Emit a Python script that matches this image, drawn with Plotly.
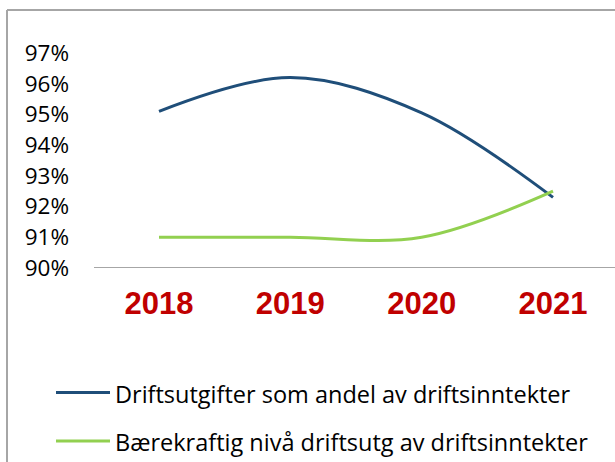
import plotly.graph_objects as go

years = ["2018", "2019", "2020", "2021"]
driftsutgifter = [95.1, 96.2, 95.05, 92.3]
baerekraftig = [91.0, 91.0, 91.0, 92.5]
y_ticks = [90, 91, 92, 93, 94, 95, 96, 97]
y_ticktext = [f"{v}%" for v in y_ticks]

names = ["Driftsutgifter som andel av driftsinntekter",
         "Bærekraftig nivå driftsutg av driftsinntekter"]
colors = ["#1F4E79", "#92D050"]

W, H = 615, 462
L, R, T, B = 94, 0, 53, 194
PW, PH = W - L - R, H - T - B

def px_x(x):
    return (x - L) / PW

def px_y(y):
    return (H - B - y) / PH

fig = go.Figure()
for i, (name, vals) in enumerate(zip(names, [driftsutgifter, baerekraftig])):
    fig.add_trace(go.Scatter(
        x=years, y=vals, mode="lines", name=name, showlegend=False,
        line=dict(color=colors[i], width=3, shape="spline", smoothing=1),
    ))

shapes = [
    dict(type="line", xref="paper", yref="y", x0=0, x1=1, y0=90, y1=90,
         line=dict(color="#A6A6A6", width=2)),
    dict(type="line", xref="paper", yref="paper",
         x0=px_x(7), x1=1.1, y0=px_y(10), y1=px_y(10),
         line=dict(color="#A6A6A6", width=2)),
    dict(type="line", xref="paper", yref="paper",
         x0=px_x(7), x1=px_x(7), y0=-1.5, y1=px_y(10),
         line=dict(color="#A6A6A6", width=2)),
]
annotations = []
legend_rows = [392.5, 441]
for i, name in enumerate(names):
    yy = legend_rows[i]
    shapes.append(dict(type="line", xref="paper", yref="paper",
                       x0=px_x(56), x1=px_x(110), y0=px_y(yy), y1=px_y(yy),
                       line=dict(color=colors[i], width=3)))
    annotations.append(dict(xref="paper", yref="paper", x=px_x(113), y=px_y(yy + 1.5),
                            xanchor="left", yanchor="middle", showarrow=False,
                            text=name, font=dict(size=23.5, family="Open Sans", color="black")))

fig.update_layout(
    width=W, height=H,
    margin=dict(l=L, r=R, t=T, b=B, pad=0, autoexpand=False),
    paper_bgcolor="white", plot_bgcolor="white",
    font=dict(family="Open Sans", color="black"),
    showlegend=False,
    xaxis=dict(
        type="category", range=[-0.495, 3.472],
        showgrid=False, zeroline=False, showline=False,
        ticks="", tickfont=dict(family="Liberation Sans", size=31, color="#C00000", weight="bold"),
        ticklabelstandoff=14,
    ),
    yaxis=dict(
        range=[90, 97], tickvals=y_ticks, ticktext=y_ticktext,
        showgrid=False, zeroline=False, showline=False, ticks="",
        tickfont=dict(family="Open Sans", size=22.5, color="black"),
        ticklabelstandoff=24,
    ),
    shapes=shapes,
    annotations=annotations,
)

fig.write_html(
    "out.html",
    config={"displayModeBar": False},
    post_script="document.body.style.margin='0';document.body.style.overflow='hidden';",
)
